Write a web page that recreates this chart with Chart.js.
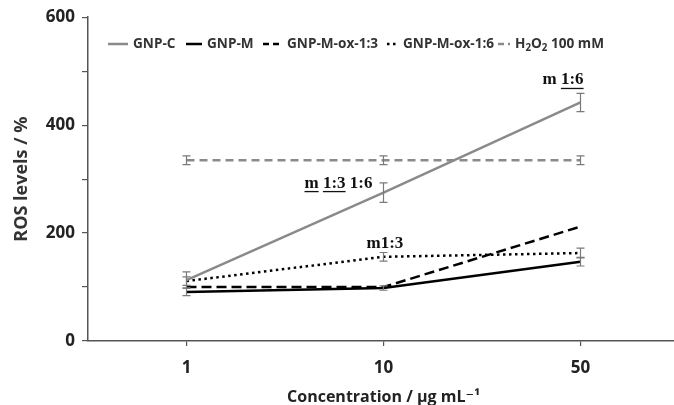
<!DOCTYPE html>
<html><head><meta charset="utf-8">
<script src="https://cdn.jsdelivr.net/npm/chart.js@4/dist/chart.umd.min.js"></script>
<style>html,body{margin:0;padding:0;background:#fff;overflow:hidden}#wrap{width:679px;height:405px;position:relative}</style>
</head><body><div id="wrap"><canvas id="c"></canvas></div>
<script>
// ---- data ----
const categories = ['1', '10', '50'];
const gnpC = [113, 275, 442];
const gnpCErr = [15, 18, 17];
const gnpM = [91, 98, 147];
const gnpMErr = [7, 4, 8];
const ox13 = [100, 100, 212];
const ox13Err = [0, 0, 0];
const ox16 = [111, 156, 163];
const ox16Err = [8, 8, 9];
const h2o2 = [335, 335, 335];
const h2o2Err = [8, 8, 8];
const yTickValues = [0, 100, 200, 300, 400, 500, 600];
const yTickLabels = ['0', '', '200', '', '400', '', '600'];
const annotationTexts = [
  [['m', false], [' ', false], ['1:6', true]],
  [['m', true], [' ', false], ['1:3', true], [' 1:6', false]],
  [['m1:3', false]]
];

const SANS = "'Open Sans', 'DejaVu Sans', sans-serif";
const SERIF = "'Liberation Serif', 'DejaVu Serif', serif";

const datasets = [
  {label: 'GNP-C', data: gnpC, err: gnpCErr, borderColor: '#8a8a8a', borderWidth: 2.5, borderDash: []},
  {label: 'GNP-M', data: gnpM, err: gnpMErr, borderColor: '#000', borderWidth: 2.5, borderDash: []},
  {label: 'GNP-M-ox-1:3', data: ox13, err: ox13Err, borderColor: '#000', borderWidth: 2.5, borderDash: [10, 5]},
  {label: 'GNP-M-ox-1:6', data: ox16, err: ox16Err, borderColor: '#000', borderWidth: 2.5, borderDash: [2.5, 3.5]},
  {label: 'H₂O₂ 100 mM', data: h2o2, err: h2o2Err, borderColor: '#8a8a8a', borderWidth: 2.5, borderDash: [8, 5]}
].map(d => Object.assign(d, {fill: false, tension: 0, pointRadius: 0, pointHoverRadius: 0, backgroundColor: d.borderColor}));

// annotation anchors: [dataset index, category index, dx, dy]
const annotationAnchors = [[0, 2, -38, -18], [0, 1, -79, -5], [3, 1, -17, -9]];
// legend layout: sample start offset from chart left, sample width
const legendSampleX = [20, 98, 175, 299, 410];
const legendSampleW = [20, 16, 19, 11, 12];

const errorBars = {
  id: 'errorBars',
  afterDatasetsDraw(chart) {
    const ctx = chart.ctx, y = chart.scales.y;
    ctx.save();
    ctx.strokeStyle = '#7a7a7a';
    ctx.lineWidth = 1.2;
    ctx.setLineDash([]);
    chart.data.datasets.forEach((ds, i) => {
      const meta = chart.getDatasetMeta(i);
      ds.err.forEach((e, j) => {
        if (!e) return;
        const x = meta.data[j].x;
        const t = y.getPixelForValue(ds.data[j] + e), b = y.getPixelForValue(ds.data[j] - e);
        ctx.beginPath();
        ctx.moveTo(x, t); ctx.lineTo(x, b);
        ctx.moveTo(x - 4, t); ctx.lineTo(x + 4, t);
        ctx.moveTo(x - 4, b); ctx.lineTo(x + 4, b);
        ctx.stroke();
      });
    });
    ctx.restore();
  }
};

function drawRich(ctx, text, x, y, size) {
  let cx = x;
  for (const ch of text) {
    const code = ch.codePointAt(0);
    if (code >= 0x2080 && code <= 0x2089) {
      const d = String(code - 0x2080);
      ctx.font = `bold ${size * 0.72}px ${SANS}`;
      ctx.fillText(d, cx, y + size * 0.28);
      cx += ctx.measureText(d).width;
    } else {
      ctx.font = `bold ${size}px ${SANS}`;
      ctx.fillText(ch, cx, y);
      cx += ctx.measureText(ch).width;
    }
  }
  return cx - x;
}

const customLegend = {
  id: 'customLegend',
  afterDraw(chart) {
    const ctx = chart.ctx;
    const size = 13.6;
    const y = 44;
    ctx.save();
    ctx.textBaseline = 'middle';
    chart.data.datasets.forEach((ds, i) => {
      const x0 = chart.chartArea.left + legendSampleX[i];
      const w = legendSampleW[i];
      ctx.strokeStyle = ds.borderColor;
      ctx.lineWidth = ds.borderWidth;
      ctx.setLineDash(ds.borderDash.length && ds.borderDash[0] > 5 ? [6, 4] : ds.borderDash);
      ctx.beginPath();
      ctx.moveTo(x0, y); ctx.lineTo(x0 + w, y);
      ctx.stroke();
      ctx.fillStyle = '#333';
      drawRich(ctx, ds.label, x0 + w + 5, y, size);
    });
    ctx.restore();
  }
};

const annotationsPlugin = {
  id: 'annotations',
  afterDatasetsDraw(chart) {
    const ctx = chart.ctx;
    ctx.save();
    ctx.font = `bold 17px ${SERIF}`;
    ctx.fillStyle = '#111';
    ctx.strokeStyle = '#111';
    ctx.lineWidth = 1.3;
    ctx.textBaseline = 'alphabetic';
    annotationTexts.forEach((parts, k) => {
      const [di, ci, dx, dy] = annotationAnchors[k];
      const p = chart.getDatasetMeta(di).data[ci];
      let x = p.x + dx;
      const y = p.y + dy;
      parts.forEach(([t, ul]) => {
        const w = ctx.measureText(t).width;
        ctx.fillText(t, x, y);
        if (ul) {
          ctx.beginPath();
          ctx.moveTo(x, y + 4); ctx.lineTo(x + w, y + 4);
          ctx.stroke();
        }
        x += w;
      });
    });
    ctx.restore();
  }
};

new Chart(document.getElementById('c'), {
  type: 'line',
  data: {labels: categories, datasets},
  plugins: [errorBars, annotationsPlugin, customLegend],
  options: {
    responsive: true,
    maintainAspectRatio: false,
    animation: false,
    events: [],
    layout: {padding: {top: 15, right: 0, left: 0, bottom: 0}},
    plugins: {legend: {display: false}, tooltip: {enabled: false}},
    scales: {
      x: {
        type: 'category',
        offset: true,
        afterFit(scale) { scale.height = 64; },
        grid: {display: true, drawOnChartArea: false, drawTicks: true, tickLength: 5, color: '#555', offset: false, lineWidth: 1.2},
        border: {display: true, color: '#555', width: 1.5},
        ticks: {font: {family: SANS, size: 17, weight: 'bold'}, color: '#222', padding: 12},
        title: {display: true, text: 'Concentration / µg mL⁻¹', font: {family: SANS, size: 16, weight: 'bold', lineHeight: 1.0}, color: '#222', padding: {top: 0, bottom: 0}}
      },
      y: {
        min: 0, max: 600,
        afterFit(scale) { scale.width = 88; },
        afterBuildTicks(scale) { scale.ticks = yTickValues.map(v => ({value: v})); },
        grid: {display: true, drawOnChartArea: false, drawTicks: true, tickLength: 6, color: '#555', lineWidth: 1.2},
        border: {display: true, color: '#555', width: 1.5},
        ticks: {font: {family: SANS, size: 17, weight: 'bold'}, color: '#222', padding: 7,
          callback: (v) => yTickLabels[yTickValues.indexOf(v)]},
        title: {display: true, text: 'ROS levels / %', font: {family: SANS, size: 18, weight: 'bold'}, color: '#333', padding: {top: 11, bottom: 0}}
      }
    }
  }
});
</script>
</body></html>
